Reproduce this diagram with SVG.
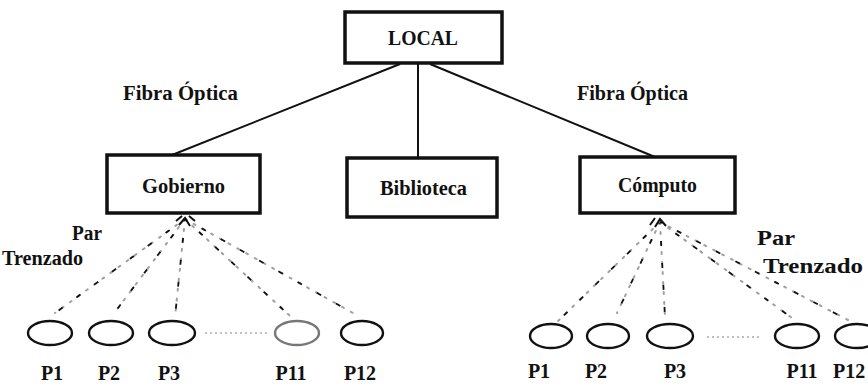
<svg xmlns="http://www.w3.org/2000/svg" width="868" height="388" viewBox="0 0 868 388">
<style>
.box{fill:#fff;stroke:#111;stroke-width:3.5}
text{font-family:'Liberation Serif','Times New Roman',Times,serif;font-weight:bold;font-size:20px;fill:#111}
.m{text-anchor:middle}
.line{stroke:#111;stroke-width:2;fill:none}
.dot{stroke:#a0a0a0;stroke-width:2;fill:none;stroke-dasharray:2 8;stroke-linecap:round}
.dash{stroke:#111;stroke-width:1.8;fill:none;stroke-dasharray:5 17;stroke-dashoffset:3}
.pc{fill:#fff;stroke:#111;stroke-width:2.4}
.pg{fill:#fff;stroke:#777;stroke-width:2.4}
.gap{stroke:#aaa;stroke-width:1.5;stroke-dasharray:2 3}
</style>
<rect width="868" height="388" fill="#fff"/>
<g id="connectors">
<line class="line" x1="400" y1="64" x2="172" y2="155"/>
<line class="line" x1="418" y1="64" x2="418" y2="158"/>
<line class="line" x1="430" y1="64" x2="655" y2="157"/>
<g id="left-links">
<line class="dot" x1="185" y1="219" x2="55" y2="313"/><line class="dash" x1="185" y1="219" x2="55" y2="313"/>
<line class="dot" x1="185" y1="219" x2="115" y2="312"/><line class="dash" x1="185" y1="219" x2="115" y2="312"/>
<line class="dot" x1="185" y1="219" x2="175" y2="317"/><line class="dash" x1="185" y1="219" x2="175" y2="317"/>
<line class="dot" x1="185" y1="219" x2="290" y2="316"/><line class="dash" x1="185" y1="219" x2="290" y2="316"/>
<line class="dot" x1="185" y1="219" x2="353" y2="313"/><line class="dash" x1="185" y1="219" x2="353" y2="313"/>
<path class="line" d="M179 225 L185 218 L190 226 M182 216 L176 221 M189 216 L195 221"/>
</g>
<g id="right-links">
<line class="dot" x1="660" y1="222" x2="557" y2="322"/><line class="dash" x1="660" y1="222" x2="557" y2="322"/>
<line class="dot" x1="660" y1="222" x2="617" y2="313"/><line class="dash" x1="660" y1="222" x2="617" y2="313"/>
<line class="dot" x1="660" y1="222" x2="665" y2="317"/><line class="dash" x1="660" y1="222" x2="665" y2="317"/>
<line class="dot" x1="660" y1="222" x2="792" y2="318"/><line class="dash" x1="660" y1="222" x2="792" y2="318"/>
<line class="dot" x1="660" y1="222" x2="848" y2="320"/><line class="dash" x1="660" y1="222" x2="848" y2="320"/>
<path class="line" d="M650 225 L655 218 M655 227 L660 219 L666 226" stroke-width="1.6"/>
</g>
<line class="gap" x1="205" y1="333" x2="267" y2="333"/>
<line class="gap" x1="707" y1="337" x2="762" y2="337"/>
</g>
<g id="local"><rect class="box" x="345" y="12" width="157" height="51"/><text x="388" y="45" textLength="70" lengthAdjust="spacingAndGlyphs">LOCAL</text></g>
<g id="gobierno"><rect class="box" x="107" y="155" width="153" height="58"/><text x="142" y="193" textLength="83" lengthAdjust="spacingAndGlyphs">Gobierno</text></g>
<g id="biblioteca"><rect class="box" x="347" y="158" width="150" height="59"/><text x="380" y="195" textLength="87" lengthAdjust="spacingAndGlyphs">Biblioteca</text></g>
<g id="computo"><rect class="box" x="580" y="157" width="155" height="56"/><text x="618" y="192" textLength="79" lengthAdjust="spacingAndGlyphs">Cómputo</text></g>
<g id="labels">
<text x="123" y="100" textLength="115" lengthAdjust="spacingAndGlyphs">Fibra Óptica</text>
<text x="577" y="100" textLength="111" lengthAdjust="spacingAndGlyphs">Fibra Óptica</text>
<text x="72" y="240" textLength="30" lengthAdjust="spacingAndGlyphs">Par</text>
<text x="2" y="265" textLength="81" lengthAdjust="spacingAndGlyphs">Trenzado</text>
<text x="757" y="245" textLength="38" lengthAdjust="spacingAndGlyphs">Par</text>
<text x="763" y="273" textLength="100" lengthAdjust="spacingAndGlyphs">Trenzado</text>
</g>
<g id="left-pcs">
<g id="lp1"><ellipse class="pc" cx="50" cy="333" rx="22" ry="12"/><text class="m" x="52" y="380">P1</text></g>
<g id="lp2"><ellipse class="pc" cx="111" cy="333" rx="22" ry="12"/><text class="m" x="109" y="380">P2</text></g>
<g id="lp3"><ellipse class="pc" cx="172" cy="333" rx="23" ry="12"/><text class="m" x="169" y="380">P3</text></g>
<g id="lp11"><ellipse class="pg" cx="297" cy="333" rx="22" ry="12"/><text class="m" x="291" y="380">P11</text></g>
<g id="lp12"><ellipse class="pc" cx="362" cy="333" rx="21" ry="12"/><text class="m" x="360" y="380">P12</text></g>
</g>
<g id="right-pcs">
<g id="rp1"><ellipse class="pc" cx="551" cy="336" rx="21" ry="12"/><text class="m" x="539" y="378">P1</text></g>
<g id="rp2"><ellipse class="pc" cx="608" cy="336" rx="21" ry="12"/><text class="m" x="596" y="378">P2</text></g>
<g id="rp3"><ellipse class="pc" cx="670" cy="336" rx="23" ry="12"/><text class="m" x="675" y="378">P3</text></g>
<g id="rp11"><ellipse class="pc" cx="797" cy="336" rx="22" ry="12"/><text class="m" x="802" y="378">P11</text></g>
<g id="rp12"><ellipse class="pc" cx="857" cy="336" rx="22" ry="12"/><text x="833" y="378">P12</text></g>
</g>
</svg>
